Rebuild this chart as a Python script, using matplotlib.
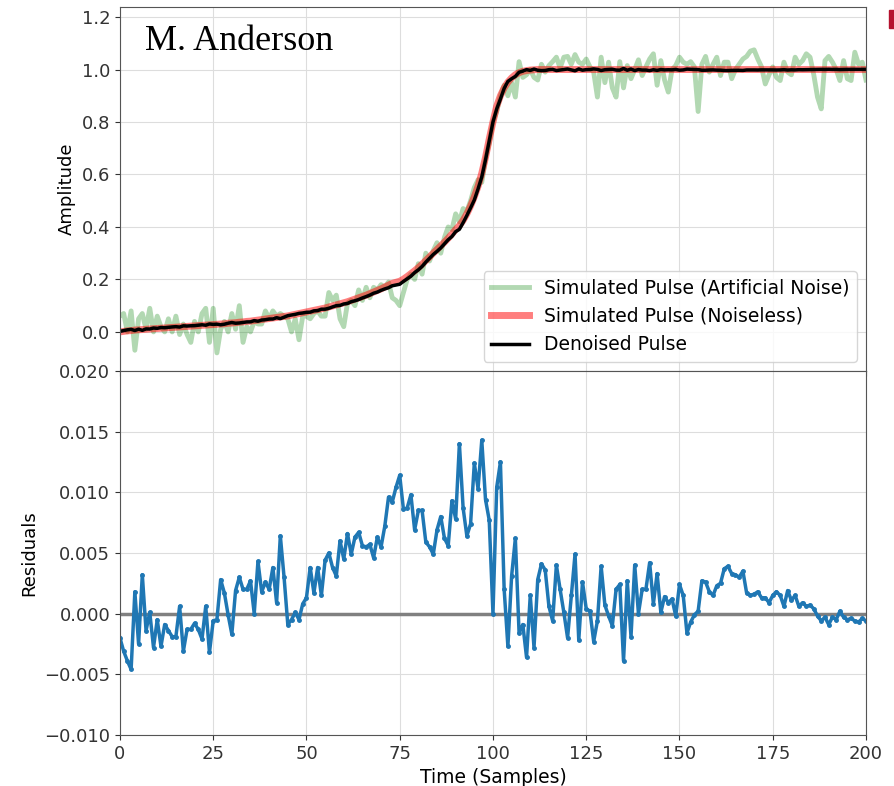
import numpy as np
import matplotlib
matplotlib.use("Agg")
from matplotlib import pyplot as plt
from matplotlib.patches import Rectangle

# time axis (samples)
time = np.arange(201)

# noiseless simulated pulse
noiseless = [
    0.000, 0.002, 0.004, 0.005, 0.007, 0.008, 0.009, 0.010, 0.011, 0.012,
    0.013, 0.014, 0.015, 0.016, 0.017, 0.018, 0.019, 0.020, 0.021, 0.022,
    0.023, 0.024, 0.025, 0.026, 0.027, 0.028, 0.029, 0.030, 0.031, 0.033,
    0.034, 0.035, 0.037, 0.038, 0.040, 0.041, 0.043, 0.045, 0.047, 0.049,
    0.051, 0.053, 0.055, 0.057, 0.059, 0.061, 0.064, 0.067, 0.070, 0.073,
    0.076, 0.079, 0.082, 0.085, 0.088, 0.091, 0.095, 0.099, 0.103, 0.107,
    0.111, 0.115, 0.120, 0.125, 0.130, 0.135, 0.140, 0.146, 0.152, 0.158,
    0.164, 0.171, 0.178, 0.185, 0.189, 0.193, 0.201, 0.211, 0.222, 0.233,
    0.245, 0.258, 0.272, 0.286, 0.300, 0.314, 0.328, 0.342, 0.357, 0.373,
    0.390, 0.405, 0.425, 0.450, 0.480, 0.515, 0.555, 0.605, 0.665, 0.735,
    0.800, 0.860, 0.900, 0.930, 0.952, 0.968, 0.980, 0.988, 0.993, 0.996,
    0.998, 0.999,
] + [1.0] * 89

# simulated pulse with artificial noise
noisy = [
    0.06, 0.07, 0.00, 0.08, -0.07, 0.05, 0.07, 0.01, 0.09, 0.00,
    0.06, 0.02, 0.00, 0.05, 0.00, 0.06, -0.01, 0.03, -0.01, -0.04,
    0.04, 0.00, 0.07, 0.09, -0.04, 0.09, -0.08, 0.01, 0.04, 0.00,
    0.07, 0.01, 0.10, -0.04, 0.02, 0.00, 0.04, 0.03, 0.03, 0.08,
    0.05, 0.08, 0.06, 0.07, 0.06, 0.05, 0.00, 0.05, -0.03, 0.06,
    0.06, 0.05, 0.07, 0.08, 0.06, 0.06, 0.15, 0.12, 0.14, 0.05,
    0.02, 0.11, 0.12, 0.10, 0.16, 0.12, 0.17, 0.13, 0.17, 0.16,
    0.18, 0.17, 0.19, 0.13, 0.12, 0.10, 0.15, 0.20, 0.22, 0.20,
    0.26, 0.22, 0.30, 0.27, 0.31, 0.34, 0.30, 0.36, 0.40, 0.39,
    0.45, 0.42, 0.47, 0.46, 0.50, 0.55, 0.58, 0.57, 0.66, 0.72,
    0.80, 0.84, 0.90, 0.94, 0.90, 0.95, 0.895, 1.03, 0.97, 0.98,
    1.00, 0.97, 0.96, 1.02, 0.99, 1.015, 1.03, 1.047, 1.006, 1.047,
    1.05, 1.02, 1.057, 1.028, 1.02, 1.04, 1.01, 0.99, 0.895, 1.047,
    0.95, 1.028, 0.93, 0.895, 1.03, 0.93, 1.015, 0.965, 1.00, 1.037,
    0.977, 1.01, 1.04, 1.06, 0.94, 1.034, 0.96, 0.914, 1.00, 1.015,
    1.047, 1.028, 1.02, 1.03, 1.01, 0.84, 1.02, 1.05, 0.99, 1.02,
    1.047, 0.977, 1.028, 1.028, 0.965, 1.00, 1.02, 1.04, 1.05, 1.07,
    1.075, 1.04, 1.01, 0.945, 0.98, 1.01, 0.97, 0.958, 1.028, 0.99,
    0.98, 1.047, 1.02, 1.034, 1.06, 1.047, 0.98, 0.895, 0.85, 1.034,
    1.05, 1.028, 1.00, 0.958, 1.034, 0.965, 0.958, 1.066, 1.02, 1.028,
    0.96,
]

# residuals (noiseless - denoised)
residuals = [
    -0.0020, -0.0031, -0.0039, -0.0046, 0.0018, -0.0025, 0.0032, -0.0014, 0.0001, -0.0028,
    -0.0005, -0.0027, -0.0009, -0.0014, -0.0019, -0.0019, 0.0006, -0.0031, -0.0013, -0.0013,
    -0.0008, -0.0013, -0.0021, 0.0006, -0.0032, -0.0006, -0.0005, 0.0028, 0.0017, -0.0001,
    -0.0017, 0.0019, 0.0030, 0.0020, 0.0020, 0.0027, 0.0000, 0.0043, 0.0018, 0.0026,
    0.0020, 0.0038, 0.0009, 0.0064, 0.0030, -0.0009, -0.0005, 0.0001, -0.0005, 0.0008,
    0.0013, 0.0038, 0.0017, 0.0038, 0.0015, 0.0044, 0.0050, 0.0038, 0.0031, 0.0060,
    0.0045, 0.0066, 0.0049, 0.0063, 0.0067, 0.0056, 0.0055, 0.0057, 0.0046, 0.0063,
    0.0055, 0.0072, 0.0096, 0.0092, 0.0104, 0.0114, 0.0086, 0.0087, 0.0098, 0.0069,
    0.0085, 0.0085, 0.0059, 0.0055, 0.0049, 0.0069, 0.0080, 0.0062, 0.0056, 0.0093,
    0.0078, 0.0140, 0.0087, 0.0064, 0.0074, 0.0124, 0.0103, 0.0143, 0.0094, 0.0077,
    0.0000, 0.0104, 0.0125, 0.0020, -0.0027, 0.0031, 0.0062, -0.0016, -0.0009, -0.0036,
    0.0015, -0.0028, 0.0028, 0.0041, 0.0036, 0.0006, -0.0006, 0.0040, 0.0020, 0.0001,
    -0.0020, 0.0015, 0.0049, -0.0022, 0.0026, 0.0004, 0.0002, -0.0023, -0.0006, 0.0039,
    0.0007, -0.0002, -0.0010, 0.0020, 0.0024, -0.0039, 0.0027, -0.0019, 0.0040, 0.0000,
    0.0020, 0.0020, 0.0042, 0.0008, 0.0033, 0.0001, 0.0014, 0.0009, 0.0012, -0.0002,
    0.0024, 0.0015, -0.0016, -0.0007, -0.0001, 0.0002, 0.0027, 0.0026, 0.0018, 0.0015,
    0.0023, 0.0025, 0.0037, 0.0039, 0.0033, 0.0032, 0.0030, 0.0035, 0.0017, 0.0015,
    0.0016, 0.0018, 0.0013, 0.0013, 0.0009, 0.0015, 0.0018, 0.0015, 0.0006, 0.0019,
    0.0011, 0.0015, 0.0006, 0.0009, 0.0006, 0.0007, 0.0004, -0.0002, -0.0006, -0.0003,
    -0.0009, -0.0003, -0.0005, 0.0002, -0.0003, -0.0005, -0.0004, -0.0006, -0.0007, -0.0004,
    -0.0006,
]

denoised = np.array(noiseless) - np.array(residuals)

plt.rcParams['font.family'] = ['DejaVu Sans']
plt.rcParams['axes.edgecolor'] = '#555555'
plt.rcParams['xtick.color'] = '#333333'
plt.rcParams['ytick.color'] = '#333333'

fig = plt.figure(figsize=(8.95, 7.86), dpi=100)
ax1 = fig.add_axes([0.134, 0.528, 0.8336, 0.463])
ax2 = fig.add_axes([0.134, 0.065, 0.8336, 0.463], sharex=ax1)

ax1.plot(time, noisy, color='green', alpha=0.3, lw=3.5, label='Simulated Pulse (Artificial Noise)')
ax1.plot(time, noiseless, color='red', alpha=0.5, lw=5, label='Simulated Pulse (Noiseless)')
ax1.plot(time, denoised, color='black', lw=2.5, label='Denoised Pulse')
ax1.set_ylim(-0.149, 1.238)
ax1.set_yticks([0.0, 0.2, 0.4, 0.6, 0.8, 1.0, 1.2])
ax1.set_ylabel('Amplitude', fontsize=13)
ax1.grid(True, color='#dddddd')
ax1.tick_params(labelbottom=False, labelsize=13)
ax1.legend(loc='lower right', fontsize=13.5)
ax1.text(0.034, 0.905, 'M. Anderson', transform=ax1.transAxes, fontsize=26,
         family='Liberation Serif', va='center')

ax2.axhline(0, color='gray', lw=2.5)
ax2.plot(time, residuals, '.-', color='#1f77b4', lw=2.5, ms=5)
ax2.set_ylim(-0.010, 0.020)
ax2.set_xlim(0, 200)
ax2.set_xticks([0, 25, 50, 75, 100, 125, 150, 175, 200])
ax2.set_ylabel('Residuals', fontsize=13)
ax2.set_xlabel('Time (Samples)', fontsize=13.5)
ax2.grid(True, color='#dddddd')
ax2.tick_params(labelsize=13)

# small red logo fragment at the top right edge
fig.patches.append(Rectangle((0.993, 0.965), 0.01, 0.022, transform=fig.transFigure,
                             color='#b5122e', zorder=5))

fig.savefig('out.png', dpi=100)
